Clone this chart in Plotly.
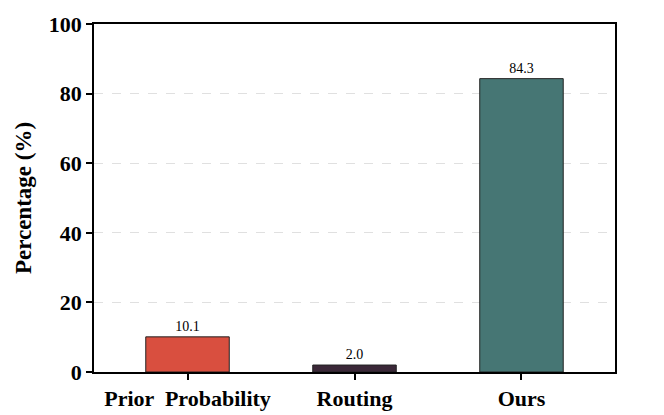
import plotly.graph_objects as go

categories = ["Prior  Probability", "Routing", "Ours"]
values = [10.1, 2.0, 84.3]
bar_colors = ["#d94f3f", "#3b2838", "#467674"]
labels = ["10.1", "2.0", "84.3"]

serif = "Liberation Serif, Times New Roman, serif"

fig = go.Figure()
fig.add_trace(go.Bar(
    x=categories, y=values, width=0.5,
    marker=dict(color=bar_colors, line=dict(color="#222222", width=1)),
    text=labels, textposition="outside", cliponaxis=False,
    textfont=dict(family=serif, size=14, color="black"),
))

fig.update_layout(
    width=664, height=415,
    paper_bgcolor="white", plot_bgcolor="white",
    margin=dict(l=86, r=57, t=16, b=51, autoexpand=False),
    showlegend=False,
    font=dict(family=serif, color="black"),
    xaxis=dict(
        range=[-0.56, 2.56], showline=True, linecolor="black", linewidth=1.5,
        mirror=True, ticks="outside", ticklen=6, tickwidth=1.5, tickcolor="black",
        tickfont=dict(family=serif, size=22, color="black", weight="bold"),
        showgrid=False, automargin=False,
    ),
    yaxis=dict(
        range=[0, 100], dtick=20, showline=True, linecolor="black", linewidth=1.5,
        mirror=True, ticks="outside", ticklen=6, tickwidth=1.5, tickcolor="black",
        tickfont=dict(family=serif, size=22, color="black", weight="bold"),
        showgrid=True, gridcolor="#e0e0e0", griddash="dash", gridwidth=1,
        zeroline=False, automargin=False,
        title=dict(text="Percentage (%)", standoff=11,
                   font=dict(family=serif, size=23, color="black", weight="bold")),
    ),
)

fig.write_html("out.html")
